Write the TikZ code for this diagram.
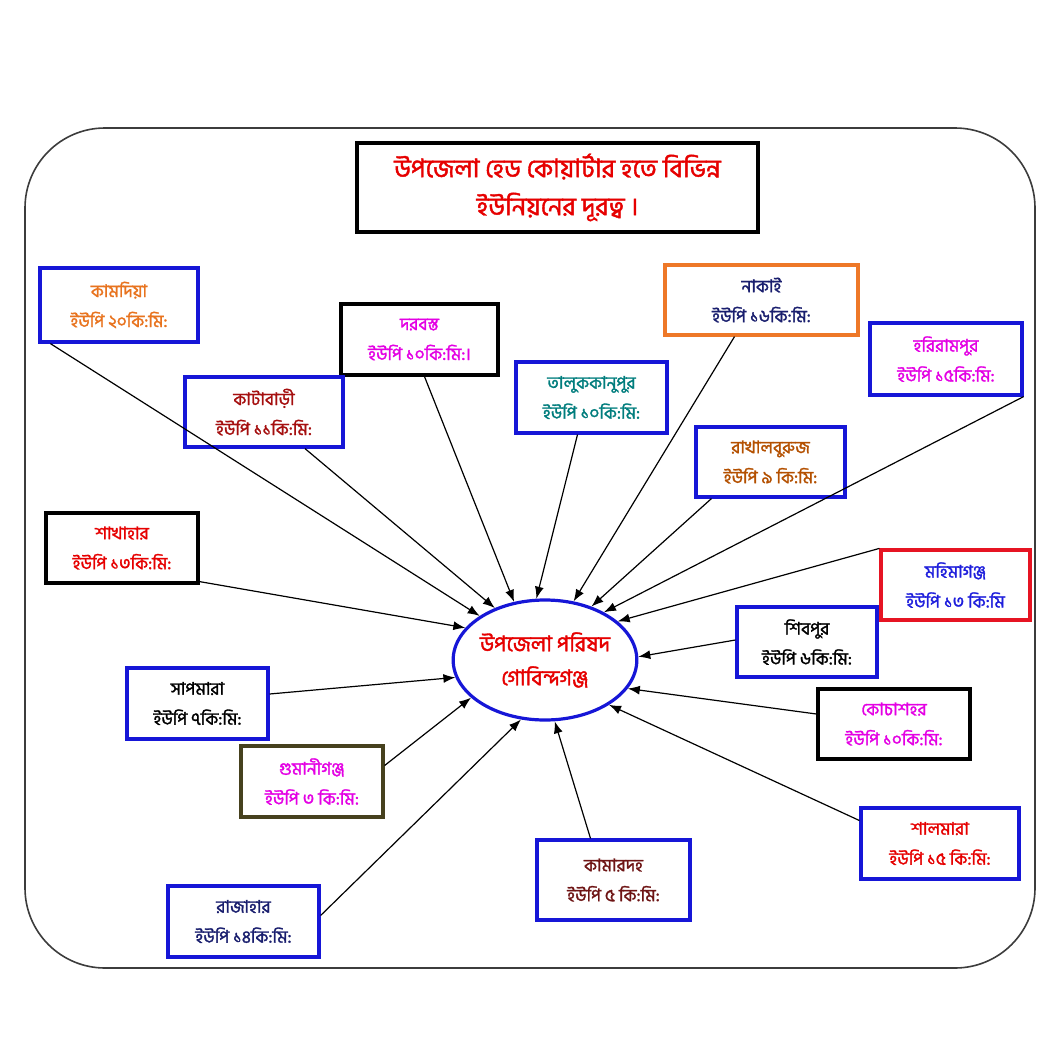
\documentclass[tikz,border=0pt]{standalone}
\usepackage{fontspec}
\newfontfamily\bn[Script=Bengali,FakeBold=1.6]{Hind Siliguri}
\usetikzlibrary{arrows.meta,calc,shapes.geometric}
\definecolor{bblue}{RGB}{22,22,215}
\definecolor{borange}{RGB}{238,120,40}
\definecolor{bred}{RGB}{230,20,35}
\definecolor{bolive}{RGB}{70,65,30}
\definecolor{torange}{RGB}{232,115,30}
\definecolor{tmag}{RGB}{228,0,228}
\definecolor{tdred}{RGB}{165,15,15}
\definecolor{tnavy}{RGB}{25,30,110}
\definecolor{tteal}{RGB}{0,125,125}
\definecolor{tbrown}{RGB}{180,80,0}
\definecolor{tred}{RGB}{230,0,0}
\definecolor{tblue}{RGB}{30,30,220}
\definecolor{tmaroon}{RGB}{110,20,20}
\definecolor{outline}{RGB}{60,60,60}
\begin{document}
\begin{tikzpicture}[x=0.5pt,y=-0.5pt,
  ubox/.style={draw=bblue, line width=1.6pt, fill=white, align=center, inner sep=0pt,
    font=\bn\fontsize{8.7}{15}\selectfont},
  arr/.style={-{Latex[length=6pt,width=4.5pt]}, line width=0.6pt, black},
  sz/.style n args={2}{minimum width=#1*0.5pt, minimum height=#2*0.5pt}]
\useasboundingbox (0,0) rectangle (1050,1050);
\fill[white] (0,0) rectangle (1050,1050);
\draw[outline, line width=0.8pt, rounded corners=40pt] (25,128) rectangle (1035,968);

\node[draw=black, line width=1.8pt, sz={401}{89}, align=center, text=tred,
  font=\bn\fontsize{12.8}{19}\selectfont] (title) at (557.5,187.5)
  {উপজেলা হেড কোয়ার্টার হতে বিভিন্ন\\ইউনিয়নের দূরত্ব ।};

\node[ellipse, draw=bblue, line width=1.6pt, sz={175}{120}, align=center, text=tred,
  inner sep=0pt, font=\bn\fontsize{10.8}{17}\selectfont] (ctr) at (545,660)
  {উপজেলা পরিষদ\\গোবিন্দগঞ্জ};

\node[ubox, sz={158}{74}, text=torange] (b1) at (119,305) {কামদিয়া\\ইউপি ২০কি:মি:};
\node[ubox, draw=black, sz={157}{71}, text=tmag] (b2) at (419.5,339.5) {দরবস্ত\\ইউপি ১০কি:মি:।};
\node[ubox, sz={158}{70}, text=tdred] (b3) at (264,412) {কাটাবাড়ী\\ইউপি ১১কি:মি:};
\node[ubox, draw=borange, sz={193}{70}, text=tnavy] (b4) at (761.5,300) {নাকাই\\ইউপি ১৬কি:মি:};
\node[ubox, sz={151}{71}, text=tteal] (b5) at (591.5,397.5) {তালুককানুপুর\\ইউপি ১০কি:মি:};
\node[ubox, sz={152}{72}, text=tmag] (b6) at (946,359) {হরিরামপুর\\ইউপি ১৫কি:মি:};
\node[ubox, sz={149}{70}, text=tbrown] (b7) at (770.5,462) {রাখালবুরুজ\\ইউপি ৯ কি:মি:};
\node[ubox, draw=black, sz={152}{70}, text=tred] (b8) at (122,548) {শাখাহার\\ইউপি ১৩কি:মি:};
\node[ubox, draw=bred, sz={149}{70}, text=tblue] (b9) at (955.5,585) {মহিমাগঞ্জ\\ইউপি ১৩ কি:মি};
\node[ubox, sz={140}{70}, text=black] (b10) at (807,642) {শিবপুর\\ইউপি ৬কি:মি:};
\node[ubox, sz={141}{71}, text=black] (b11) at (197.5,703.5) {সাপমারা\\ইউপি ৭কি:মি:};
\node[ubox, draw=bolive, sz={142}{71}, text=tmag] (b12) at (312,781.5) {গুমানীগঞ্জ\\ইউপি ৩ কি:মি:};
\node[ubox, draw=black, sz={152}{70}, text=tmag] (b13) at (894,724) {কোচাশহর\\ইউপি ১০কি:মি:};
\node[ubox, sz={158}{71}, text=tred] (b14) at (940,843.5) {শালমারা\\ইউপি ১৫ কি:মি:};
\node[ubox, sz={153}{80}, text=tmaroon] (b15) at (613.5,880) {কামারদহ\\ইউপি ৫ কি:মি:};
\node[ubox, sz={151}{71}, text=tnavy] (b16) at (243.5,921.5) {রাজাহার\\ইউপি ১৪কি:মি:};

\draw[arr] ($(b1.south west)+(12,0)$) -- (ctr.146);
\draw[arr] ($(b2.south)+(5,0)$) -- (ctr.118);
\draw[arr] ($(b3.south)+(41,0)$) -- (ctr.134);
\draw[arr] ($(b4.south)+(-27,0)$) -- (ctr.64);
\draw[arr] ($(b5.south)+(-14,0)$) -- (ctr.98);
\draw[arr] (b6.south east) -- (ctr.39);
\draw[arr] ($(b7.south west)+(17,0)$) -- (ctr.49);
\draw[arr] ($(b8.south east)+(0,-3)$) -- (ctr.158);
\draw[arr] (b9.north west) -- (ctr.28);
\draw[arr] ($(b10.west)+(0,-2)$) -- (ctr.2);
\draw[arr] ($(b11.east)+(0,-9.5)$) -- (ctr.191);
\draw[arr] ($(b12.east)+(0,-16)$) -- (ctr.207);
\draw[arr] ($(b13.west)+(0,-10)$) -- (ctr.341);
\draw[arr] ($(b14.west)+(0,-23)$) -- (ctr.325);
\draw[arr] ($(b15.north)+(-23,0)$) -- (ctr.279);
\draw[arr] ($(b16.east)+(0,-6)$) -- (ctr.248);
\end{tikzpicture}
\end{document}
